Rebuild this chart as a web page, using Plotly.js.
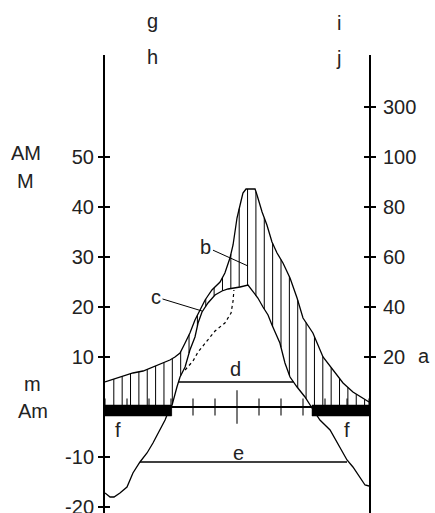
<!DOCTYPE html>
<html><head><meta charset="utf-8">
<script src="https://cdn.plot.ly/plotly-3.0.1.min.js"></script>
<style>html,body{margin:0;padding:0;background:#fff}</style>
</head><body><div id="chart" style="width:435px;height:513px"></div>
<script>
// Temperature curve (month position 0..12, °C)
const tempMonth = [0,0.23,0.41,0.68,1.0,1.27,1.59,1.91,2.18,2.5,2.73,2.95,3.05,3.27,3.41,3.64,3.86,4.09,4.23,4.41,4.68,5.0,5.32,5.59,5.91,6.14,6.5,6.73,6.95,7.18,7.41,7.59,7.95,8.18,8.41,8.73,9.09,9.41,9.77,10.23,10.68,11.0,11.27,11.59,11.82,12];
const tempC = [-17.2,-18.0,-18.0,-17.2,-16.0,-13.2,-11.0,-9.2,-7.2,-4.6,-2.6,-0.2,0.4,4.0,6.0,8.0,11.4,14.0,16.8,19.0,20.8,22.4,23.2,23.6,23.8,24.0,24.4,23.0,21.8,20.0,18.4,16.4,12.8,8.8,6.0,4.0,2.0,-0.2,-2.6,-4.6,-8.0,-10.6,-12.0,-14.0,-15.6,-15.8];
// Precipitation curve (month position, mm)
const precMonth = [0,0.41,0.68,1.27,1.73,2.18,2.64,2.95,3.18,3.41,3.64,3.86,4.09,4.32,4.55,4.86,5.23,5.45,5.68,5.82,6.0,6.14,6.27,6.41,6.82,6.91,7.14,7.36,7.59,7.82,8.09,8.41,8.73,9.0,9.45,9.91,10.36,10.82,11.27,11.68,12];
const precMm = [10.0,11.2,12,13.6,14.4,16,17.6,18.8,20,21.6,25.6,29.6,34.8,38.8,42.8,46.8,50,53.6,59.6,64.8,75.6,80.8,85.6,87.2,87.2,84.8,78,72.8,66,61.6,57.6,51.6,43.6,35.6,29.6,20,14.8,9.6,6,3.6,2.0];
// Dashed curve c
const dashMonth = [3.64,4.0,4.23,4.55,5.0,5.45,5.73,5.82,5.86];
const dashC = [7.4,9.2,11.0,12.8,15.2,16.8,18.8,21.2,23.4];
// Axis ticks
const tempTicks = [-20,-10,10,20,30,40,50];
const precTickMm = [20,40,60,80,100,300];
const precTickText = ['20','40','60','80','100','300'];
const monthEdges = [0,1,2,3,4,5,6,7,8,9,10,11,12];
// Frost periods (months) and threshold lines
const frostPeriods = [[0,3.03],[9.41,12]];
const lineD = {from:3.34, to:8.57, level:5};
const lineE = {from:1.59, to:11.0, level:-11};

function precToScale(p){ return p<=100 ? p/2 : 50 + (p-100)/20; }
function interp(xs, ys, x){
  for(let i=0;i<xs.length-1;i++){
    if(x>=xs[i] && x<=xs[i+1]){
      const t=(x-xs[i])/(xs[i+1]-xs[i]); return ys[i]+t*(ys[i+1]-ys[i]);
    }
  }
  return ys[ys.length-1];
}
const precScaled = precMm.map(precToScale);

// hatching between precipitation and max(temp,0)
const hx=[], hy=[];
for(let x=0.4; x<12; x+=0.38){
  const p = interp(precMonth, precScaled, x);
  const t = Math.max(0, interp(tempMonth, tempC, x));
  if(p>t){ hx.push(x,x,null); hy.push(t,p,null); }
}
const fx=[], fy=[];
frostPeriods.forEach(([a,b])=>{ fx.push(a,b,b,a,a,null); fy.push(0.4,0.4,-1.8,-1.8,0.4,null); });

const K='#000';
const traces = [
  {x:hx, y:hy, mode:'lines', line:{color:K,width:1}, hoverinfo:'skip'},
  {x:dashMonth, y:dashC, mode:'lines', line:{color:K,width:1.2,dash:'3px,3px'}},
  {x:tempMonth, y:tempC, mode:'lines', line:{color:K,width:1.3}},
  {x:precMonth, y:precScaled, mode:'lines', line:{color:K,width:1.3}},
  {x:[lineD.from,lineD.to], y:[lineD.level,lineD.level], mode:'lines', line:{color:K,width:1.3}},
  {x:[lineE.from,lineE.to], y:[lineE.level,lineE.level], mode:'lines', line:{color:K,width:1.3}},
  {x:monthEdges, y:monthEdges.map(()=>0), mode:'markers',
   marker:{symbol:'line-ns', size:monthEdges.map(m=>m===6?24:12), color:K, line:{color:K,width:1.5}}},
  {x:fx, y:fy, mode:'lines', fill:'toself', fillcolor:K, line:{color:K,width:0.5}},
  {x:[null], y:[null], yaxis:'y2', mode:'lines'},
  {x:[null], y:[null], yaxis:'y3', mode:'lines'},
  {x:[null], y:[null], yaxis:'y4', mode:'lines'}
];

const font = {family:'"Liberation Sans", Arial, sans-serif', size:20, color:'#222'};
const yr = [-21.2, 70.4];
const baseY = {range:yr, autorange:false, showgrid:false, fixedrange:true, tickfont:font, ticklabeloverflow:'allow'};
const layout = {
  width:435, height:513, margin:{l:105,r:66,t:55,b:0},
  paper_bgcolor:'#fff', plot_bgcolor:'#fff', showlegend:false,
  font:font,
  xaxis:{range:[0,12], visible:false, fixedrange:true},
  yaxis:Object.assign({}, baseY, {showline:true, linecolor:K, linewidth:2, ticks:'outside', ticklen:5, tickwidth:1.5, tickcolor:K,
    tickvals:tempTicks, ticktext:tempTicks.map(String), zeroline:true, zerolinecolor:K, zerolinewidth:2}),
  yaxis3:Object.assign({}, baseY, {overlaying:'y', side:'left', anchor:'x', ticks:'inside', ticklen:5, tickwidth:1.5, tickcolor:K,
    tickvals:tempTicks, showticklabels:false, showline:false, zeroline:false}),
  yaxis2:Object.assign({}, baseY, {overlaying:'y', side:'right', anchor:'x', showline:true, linecolor:K, linewidth:2, ticks:'outside', ticklen:5, tickwidth:1.5, tickcolor:K,
    tickvals:precTickMm.map(precToScale), ticktext:precTickText, zeroline:false, ticklabelstandoff:3}),
  yaxis4:Object.assign({}, baseY, {overlaying:'y', side:'right', anchor:'x', ticks:'inside', ticklen:5, tickwidth:1.5, tickcolor:K,
    tickvals:precTickMm.map(precToScale), showticklabels:false, showline:false, zeroline:false}),
  annotations:[
    {text:'AM', xref:'paper', yref:'paper', x:-0.299, y:0.787},
    {text:'M', xref:'paper', yref:'paper', x:-0.301, y:0.725},
    {text:'m', xref:'paper', yref:'paper', x:-0.273, y:0.2817},
    {text:'Am', xref:'paper', yref:'paper', x:-0.273, y:0.2227},
    {text:'g', xref:'paper', yref:'paper', x:0.180, y:1.074},
    {text:'h', xref:'paper', yref:'paper', x:0.180, y:0.9956},
    {text:'i', xref:'paper', yref:'paper', x:0.888, y:1.070},
    {text:'j', xref:'paper', yref:'paper', x:0.883, y:0.9934},
    {text:'a', xref:'paper', yref:'paper', x:1.208, y:0.3428},
    {text:'d', x:5.95, y:7.6},
    {text:'e', x:6.05, y:-9.2},
    {text:'f', x:0.61, y:-4.6},
    {text:'f', x:10.98, y:-4.6},
    {text:'b', x:6.5, y:28.2, ax:4.59, ay:32.0, axref:'x', ayref:'y', showarrow:true, arrowhead:0, arrowwidth:1, arrowcolor:K, standoff:0},
    {text:'c', x:4.41, y:19.2, ax:2.32, ay:22.0, axref:'x', ayref:'y', showarrow:true, arrowhead:0, arrowwidth:1, arrowcolor:K, standoff:0}
  ].map(a=>Object.assign({showarrow:false, xanchor:'center', yanchor:'middle', font:font}, a))
};
Plotly.newPlot('chart', traces, layout, {staticPlot:true, displayModeBar:false});
</script></body></html>
